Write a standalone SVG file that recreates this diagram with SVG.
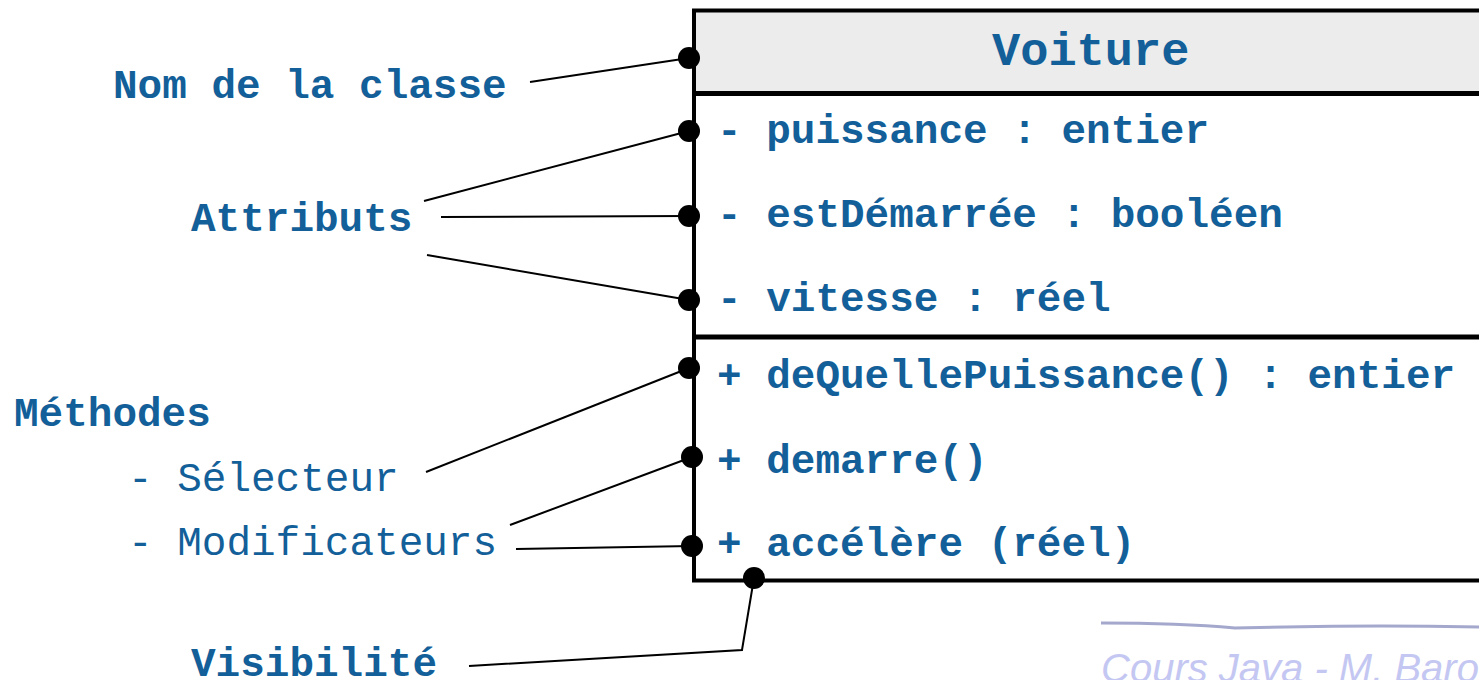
<svg xmlns="http://www.w3.org/2000/svg" width="1479" height="680" viewBox="0 0 1479 680">
<style>
.lbl{font-family:"Liberation Mono","Courier New",monospace;font-size:41px;fill:#135f99;font-weight:bold}
.reg{font-weight:normal}
.title{font-size:47px}
.con{stroke:#000;stroke-width:2;fill:none}
.dot{fill:#000}
.foot{font-family:"Liberation Sans",Arial,sans-serif;font-style:italic;font-size:40px;fill:#c4c7f2}
</style>
<rect width="1479" height="680" fill="#fff"/>
<g id="class-voiture">
<rect x="694" y="10.5" width="820" height="82" fill="#ececec"/>
<rect x="694" y="10.5" width="820" height="570" fill="none" stroke="#000" stroke-width="4"/>
<line x1="694" y1="93.5" x2="1500" y2="93.5" stroke="#000" stroke-width="5"/>
<line x1="694" y1="337" x2="1500" y2="337" stroke="#000" stroke-width="5"/>
<text class="lbl title" x="992" y="65">Voiture</text>
<text class="lbl" x="717" y="143">- puissance : entier</text>
<text class="lbl" x="717" y="227">- estDémarrée : booléen</text>
<text class="lbl" x="717" y="311">- vitesse : réel</text>
<text class="lbl" x="717" y="388">+ deQuellePuissance() : entier</text>
<text class="lbl" x="717" y="473">+ demarre()</text>
<text class="lbl" x="717" y="556">+ accélère (réel)</text>
</g>
<g id="label-nom"><text class="lbl" x="113" y="98">Nom de la classe</text></g>
<g id="label-attributs"><text class="lbl" x="191" y="231">Attributs</text></g>
<g id="label-methodes">
<text class="lbl" x="14" y="426">Méthodes</text>
<text class="lbl reg" x="128" y="491">- Sélecteur</text>
<text class="lbl reg" x="128" y="555">- Modificateurs</text>
</g>
<g id="label-visibilite"><text class="lbl" x="191" y="676">Visibilité</text></g>
<g id="connectors">
<line class="con" x1="530" y1="82" x2="689" y2="58"/>
<line class="con" x1="424" y1="201" x2="689" y2="131"/>
<line class="con" x1="441" y1="217" x2="689" y2="216"/>
<line class="con" x1="427" y1="255" x2="689" y2="300"/>
<line class="con" x1="426" y1="472" x2="689" y2="368"/>
<line class="con" x1="510" y1="525" x2="692" y2="457"/>
<line class="con" x1="516" y1="549" x2="692" y2="546"/>
<polyline class="con" points="469,666 742,650 754,578"/>
<circle class="dot" cx="689" cy="58" r="11"/>
<circle class="dot" cx="689" cy="131" r="11"/>
<circle class="dot" cx="689" cy="216" r="11"/>
<circle class="dot" cx="689" cy="300" r="11"/>
<circle class="dot" cx="689" cy="368" r="11"/>
<circle class="dot" cx="692" cy="457" r="11"/>
<circle class="dot" cx="692" cy="546" r="11"/>
<circle class="dot" cx="754" cy="578" r="11"/>
</g>
<g id="footer">
<path d="M1101 623 Q1180 623 1235 628 L1285 627 Q1380 625 1479 627" stroke="#a4a8cc" stroke-width="3" fill="none"/>
<text class="foot" x="1101" y="682">Cours Java - M. Baron</text>
</g>
</svg>
